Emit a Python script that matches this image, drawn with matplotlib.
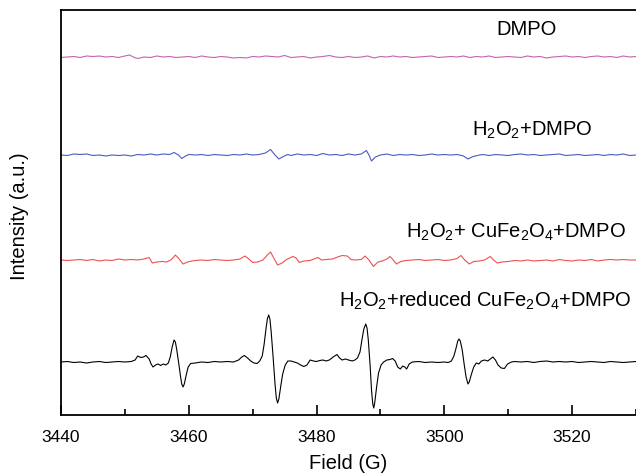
import matplotlib
matplotlib.use("Agg")
import matplotlib.pyplot as plt
from matplotlib.ticker import MultipleLocator

plt.rcParams['font.family'] = ['Liberation Sans', 'DejaVu Sans']
plt.rcParams['mathtext.fontset'] = 'custom'
plt.rcParams['mathtext.rm'] = 'Liberation Sans'
plt.rcParams['mathtext.it'] = 'Liberation Sans:italic'

# EPR spectra, field in G, intensity in arbitrary units (relative to each baseline)
field_black = [3440, 3441, 3442, 3443, 3444, 3445, 3446, 3447, 3448, 3449, 3450, 3451,
               3451.6, 3452, 3452.5, 3452.9, 3453.3, 3453.8, 3454.1, 3454.4, 3454.8,
               3455.2, 3455.6, 3456, 3456.4,
               3456.8, 3457.1, 3457.4, 3457.7, 3457.9, 3458.1, 3458.4, 3458.7, 3458.9,
               3459.1, 3459.3, 3459.6, 3459.9, 3460.3, 3461, 3462, 3463, 3464, 3465,
               3466, 3467, 3467.8, 3468.3, 3468.7, 3469.2, 3469.7, 3470.2, 3470.7,
               3471.1,
               3471.5, 3471.8, 3472.1, 3472.3, 3472.5, 3472.7, 3472.9, 3473.2, 3473.5,
               3473.7, 3473.9, 3474.1, 3474.4, 3474.7, 3475.1, 3475.5, 3476, 3476.5,
               3477, 3477.5, 3478, 3478.5, 3479, 3479.5, 3480, 3480.5, 3481, 3481.5,
               3482, 3482.6, 3483.2, 3483.6, 3484, 3484.5, 3485, 3485.6, 3486,
               3486.4, 3486.8, 3487.1, 3487.4, 3487.7, 3487.9, 3488.1, 3488.4, 3488.6,
               3488.8, 3488.95, 3489.1, 3489.4, 3489.7, 3490.1, 3490.5, 3491, 3491.5,
               3491.9, 3492.3, 3492.7, 3493.1, 3493.5, 3493.8, 3494.1, 3494.5, 3495,
               3496, 3497, 3498, 3499, 3500, 3500.6, 3501.1,
               3501.5, 3501.8, 3502.1, 3502.3, 3502.5, 3502.8, 3503.1, 3503.4, 3503.7,
               3503.9, 3504.2, 3504.6, 3505, 3505.4, 3505.8, 3506.3, 3506.8, 3507.2,
               3507.6, 3508, 3508.4, 3508.9, 3509.4, 3509.9, 3510.5, 3511,
               3512, 3513, 3514, 3515, 3516, 3517, 3518, 3519, 3520, 3521, 3522, 3523,
               3524, 3525, 3526, 3527, 3528, 3529, 3530]
int_black = [0, 0.5, -0.5, 0, -1, 0, 0.5, -0.5, 0, 0.5, 0, 0.5,
             2, 6, 4.5, 5, 6.5, 3, -2, -5, -3,
             -2, -3.5, -2, -3,
             -1, 5, 15, 22, 20, 13, 0, -14, -22,
             -25, -22, -13, -5, -1.5, -1, 0, -0.5, 0.5, 0,
             0.5, 0, 2, 5, 6.5, 4, 1, -1, -1.5,
             1,
             6, 18, 34, 43, 47, 43, 30, 5, -22,
             -36, -41, -37, -24, -12, -3, 1, 1, 0,
             -1, -3, -4.5, -3, 2, 1, 0.5, 1.5, 2, 1,
             2, 5, 7.5, 4, 2, 3, 2, 1, 2,
             4, 10, 22, 33, 38, 34, 22, -5, -28,
             -42, -46, -41, -25, -11, -3, 0, 2, 2.5,
             3.5, 1, -5, -7, -4, -5, -7, -2, 0,
             0.5, -0.5, 0, -0.5, 0, -0.5, 1,
             6, 13, 21, 23, 21, 12, -2, -15, -22,
             -20, -13, -5, -1, -2, 1, 2, 1, 3,
             5, 2, -3, -6, -6.5, -2, 0, 0.5,
             0, 0.5, -0.5, 0.5, 1, 0, 0.5, 0, 0.5, -0.5, 0, 0.5,
             0, -0.5, 0.5, 0, -0.5, 0, 0.5]

field_red = [3440, 3441, 3442, 3443, 3444, 3445, 3446, 3447, 3448, 3449, 3450, 3451,
             3452, 3453, 3453.8, 3454.3, 3455, 3455.8, 3456.5, 3457.2, 3457.9, 3458.5,
             3459.1, 3459.8, 3460.5, 3461, 3462, 3463, 3464, 3465, 3466, 3467, 3468,
             3468.8, 3469.4, 3470, 3470.8, 3471.6, 3472.3, 3472.8, 3473.3, 3473.9,
             3474.6, 3475.3, 3476.3, 3476.8, 3477.3, 3478, 3479, 3480.2, 3480.8,
             3481.5, 3482.5, 3483.3, 3484, 3484.8, 3485.4, 3486, 3487, 3487.6, 3488.2,
             3488.9, 3489.6, 3490.3, 3491, 3491.5, 3492, 3492.5, 3493.2, 3494, 3495,
             3496, 3497, 3498, 3499, 3500, 3501, 3502, 3502.6, 3503.2, 3503.9, 3504.6,
             3505.5, 3506.3, 3507.2, 3507.7, 3508.3, 3509, 3510, 3511, 3512, 3513,
             3514, 3515, 3516, 3517, 3518, 3519, 3520, 3521, 3522, 3523, 3524, 3525,
             3526, 3527, 3528, 3529, 3530]
int_red = [0, -0.5, 0, 0.5, -0.5, 0.5, -1, 0, -0.5, 1, 0, 0.5,
           0, 1, 2.5, -3, -2, -1.5, -2, 0, 5, 1,
           -4, -2, -1, -0.5, 0, -0.5, 0.5, 0, -0.5, 0, 1,
           4, 1, -2.5, -2, 0, 5, 8, 2, -5,
           -3, 0.5, 3.5, 2, -2.5, -1, -0.5, 2.5, 0,
           0.5, 1, 3, 4.5, 4, 0.5, 0, 0.5, 4, 0,
           -6.5, -2, -1, 1, 3.5, 0, -4, -1.5, -0.5, 0,
           0.5, -0.5, 0, 0.5, -0.5, 0, 1.5, 4.5, 0, -4, -1.5,
           -1, 0, 3.5, 0, -3, -2, -1.5, -0.5, -1, 0,
           -1, -0.5, 0, -1, 0.5, -0.5, -1, 0, -0.5, 0.5, -1, 0,
           0.5, 0, 0.5, 0, 0]

field_blue = [3440, 3441, 3442, 3443, 3444, 3445, 3446, 3447, 3448, 3449, 3450, 3451,
              3452, 3453, 3454, 3455, 3456, 3457, 3457.7, 3458.4, 3458.9, 3459.5, 3460,
              3461, 3462, 3463, 3464, 3465, 3466, 3467, 3468, 3469, 3470, 3471, 3472,
              3472.8, 3473.5, 3474.1, 3474.8, 3475.5, 3476, 3477, 3478, 3479, 3480,
              3481, 3482, 3483, 3484, 3485, 3486, 3487, 3487.8, 3488.2, 3488.6, 3489.2,
              3490, 3491, 3492, 3493, 3494, 3495, 3496, 3497, 3498, 3499, 3500, 3501,
              3502, 3503, 3503.7, 3504.5, 3505.5, 3506, 3507, 3508, 3509, 3510, 3511,
              3512, 3513, 3514, 3515, 3516, 3517, 3518, 3519, 3520, 3521, 3522, 3523,
              3524, 3525, 3526, 3527, 3528, 3529, 3530]
int_blue = [0, -0.5, 1, 0.5, 1, -0.5, 0, -1, 0, -0.5, 0, -1,
            0.5, 0, 1, 0, 1, 0.5, 2.5, 0, -3.5, -1, 0.5,
            0, 0.5, -0.5, 0.5, 0, -0.5, 0.5, 0, 1, 0, 0.5, 2,
            5.5, 0, -4, -1.5, 0.5, -0.5, 1, 0, 0.5, -0.5,
            1.5, 0, 0.5, -0.5, 1, 0, 1, 4.5, 0, -6, -2,
            0, 1, -0.5, 0.5, 0, 0.5, -0.5, 0, 1, 0, 0.5, 0,
            0.5, -1, -4, -1.5, 0, 0.5, -0.5, 0.5, 0, -0.5, 0.5,
            1, 0, 0.5, -0.5, 0, 0.5, 1, -0.5, 0, 0.5, -0.5, 0,
            0.5, -0.5, 0.5, 0, 1, -0.5, 0]

field_magenta = list(range(3440, 3451)) + [3450.7, 3451.5] + list(range(3452, 3531))
int_magenta = [-0.5, 0, 0.5, -0.5, 1, 0.5, 1, 0, 0.5, -0.5, 1, 2, -0.5,
               -1.5, 0, -0.5, 1, 0, 0.5, -0.5, 0, 0.5, -0.5, 1, 0, -0.5, 0.5, 0,
               -1, -0.5, -1, 0.5, 0, 1, 0.5, 0, 1.5, -0.5, 0, 0.5, -1, 0, 0.5,
               1.5, 0, -0.5, 0.5, -0.5, 0, 1, -1, 0.5, 0, 1, 0, 0.5, -0.5, 0,
               0.5, 1, -0.5, 0, 0.5, 0, 1, -0.5, 0.5, 0, 1, -0.5, 0, 0.5, 0,
               -0.5, 1, 0, 0.5, -1, 0, 0.5, 1, 0, 0.5, -0.5, 0.5, 1, 0, 0.5,
               -0.5, 1, 0, 0.5]

series = [
    (field_black, int_black, 53, 'black',
     r'H$_\mathregular{2}$O$_\mathregular{2}$+reduced CuFe$_\mathregular{2}$O$_\mathregular{4}$+DMPO', 3506.4, 114),
    (field_red, int_red, 155, '#f0504f',
     r'H$_\mathregular{2}$O$_\mathregular{2}$+ CuFe$_\mathregular{2}$O$_\mathregular{4}$+DMPO', 3511.2, 183),
    (field_blue, int_blue, 260, '#4a5cc0',
     r'H$_\mathregular{2}$O$_\mathregular{2}$+DMPO', 3513.8, 285),
    (field_magenta, int_magenta, 358, '#c064b4', 'DMPO', 3512.8, 385),
]

fig = plt.figure(figsize=(6.36, 4.73), dpi=100)
ax = fig.add_axes([61 / 636, 1 - 415 / 473, 575 / 636, 405 / 473])

for x, y, offset, color, label, lx, ly in series:
    ax.plot(x, [v + offset for v in y], color=color, lw=0.8)
    ax.text(lx, ly, label, ha='center', va='center', fontsize=14.5)

ax.set_xlim(3440, 3530)
ax.set_ylim(0, 405)
ax.xaxis.set_major_locator(MultipleLocator(20))
ax.xaxis.set_minor_locator(MultipleLocator(10))
ax.tick_params(axis='x', which='major', direction='in', length=7, width=1.2,
               labelsize=12.5, pad=11)
ax.tick_params(axis='x', which='minor', direction='in', length=4, width=1.2)
ax.set_yticks([])
ax.spines['right'].set_visible(False)
for s in ['left', 'top', 'bottom']:
    ax.spines[s].set_linewidth(1.3)

ax.set_xlabel('Field (G)', fontsize=14.5, labelpad=6)
fig.text(20 / 636, 1 - 216 / 473, 'Intensity (a.u.)', rotation=90,
         ha='center', va='center', fontsize=14.5)

fig.savefig('out.png', dpi=100)
